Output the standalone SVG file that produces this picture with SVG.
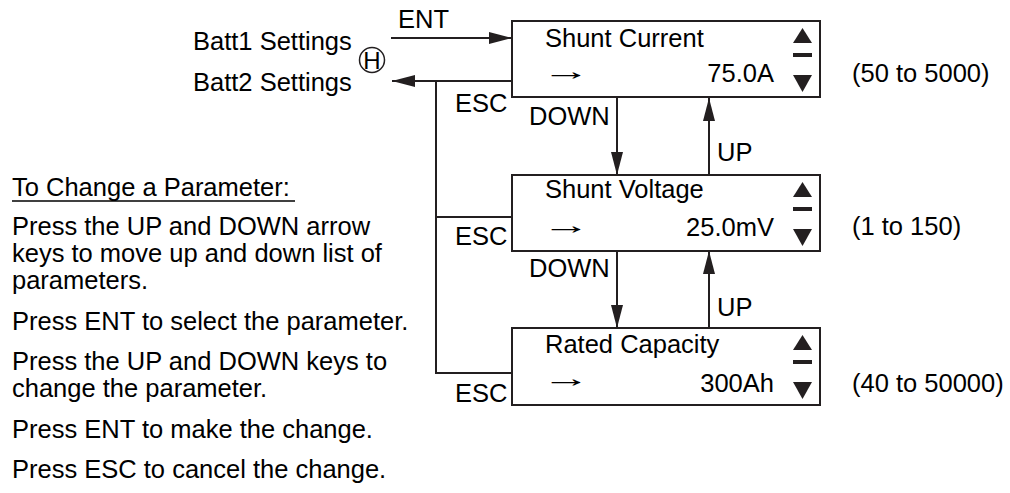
<svg xmlns="http://www.w3.org/2000/svg" xmlns:xlink="http://www.w3.org/1999/xlink" width="1010" height="493" viewBox="0 0 1010 493">
<style>
text{font-family:"Liberation Sans",Arial,sans-serif;font-size:25.5px;fill:#000}
.box{fill:#fff;stroke:#231f20;stroke-width:2}
.ln{fill:none;stroke:#231f20;stroke-width:2}
.end{text-anchor:end}
.arr{font-family:"Liberation Sans",Arial,sans-serif;font-size:25.5px}
</style>
<defs>
<marker id="ah" viewBox="0 0 23 12" refX="23" refY="6" markerWidth="23" markerHeight="12" markerUnits="userSpaceOnUse" orient="auto">
<path d="M0,0 L23,6 L0,12 z" fill="#231f20"/>
</marker>
<g id="scroll" fill="#231f20">
<polygon points="793,22 812,22 802.5,7"/>
<rect x="793" y="32" width="19" height="4"/>
<polygon points="793,54 812,54 802.5,71"/>
</g>
</defs>
<rect width="1010" height="493" fill="#fff"/>

<g id="connectors">
<path class="ln" d="M391,38 H512" marker-end="url(#ah)"/>
<path class="ln" d="M512,81 H392" marker-end="url(#ah)"/>
<path class="ln" d="M436,81 V373 H512 M436,217 H512"/>
<path class="ln" d="M617,98 V175" marker-end="url(#ah)"/>
<path class="ln" d="M709,175 V98" marker-end="url(#ah)"/>
<path class="ln" d="M617,251 V328" marker-end="url(#ah)"/>
<path class="ln" d="M709,328 V251" marker-end="url(#ah)"/>
<text x="398" y="28">ENT</text>
<text x="455" y="112">ESC</text>
<text x="455" y="245">ESC</text>
<text x="455" y="402">ESC</text>
<text x="529" y="125">DOWN</text>
<text x="529" y="277">DOWN</text>
<text x="717" y="161">UP</text>
<text x="717" y="316">UP</text>
</g>

<g id="batt">
<text x="193" y="50">Batt1 Settings</text>
<text x="193" y="91">Batt2 Settings</text>
<circle cx="372" cy="60" r="12.5" fill="none" stroke="#231f20" stroke-width="1.5"/>
<text x="372" y="69" style="font-size:24px;text-anchor:middle">H</text>
</g>

<g id="shunt-current">
<rect class="box" x="512" y="21" width="308" height="76"/>
<text x="545" y="47">Shunt Current</text>
<text class="arr" transform="translate(542,80) scale(1.9,1)">→</text>
<text class="end" x="774" y="82">75.0A</text>
<use xlink:href="#scroll" href="#scroll" transform="translate(0,21)"/>
<text x="852" y="82">(50 to 5000)</text>
</g>

<g id="shunt-voltage">
<rect class="box" x="512" y="175" width="308" height="76"/>
<text x="545" y="198">Shunt Voltage</text>
<text class="arr" transform="translate(542,234) scale(1.9,1)">→</text>
<text class="end" x="774" y="236">25.0mV</text>
<use xlink:href="#scroll" href="#scroll" transform="translate(0,175)"/>
<text x="852" y="235">(1 to 150)</text>
</g>

<g id="rated-capacity">
<rect class="box" x="512" y="328" width="308" height="77"/>
<text x="545" y="353">Rated Capacity</text>
<text class="arr" transform="translate(542,387) scale(1.9,1)">→</text>
<text class="end" x="774" y="392">300Ah</text>
<use xlink:href="#scroll" href="#scroll" transform="translate(0,328)"/>
<text x="852" y="392">(40 to 50000)</text>
</g>

<g id="instructions">
<text x="12" y="196">To Change a Parameter:</text>
<line x1="12" y1="201" x2="295" y2="201" stroke="#000" stroke-width="1.5"/>
<text x="12" y="235">Press the UP and DOWN arrow</text>
<text x="12" y="262">keys to move up and down list of</text>
<text x="12" y="289">parameters.</text>
<text x="12" y="330">Press ENT to select the parameter.</text>
<text x="12" y="370">Press the UP and DOWN keys to</text>
<text x="12" y="397">change the parameter.</text>
<text x="12" y="438">Press ENT to make the change.</text>
<text x="12" y="478">Press ESC to cancel the change.</text>
</g>
</svg>
